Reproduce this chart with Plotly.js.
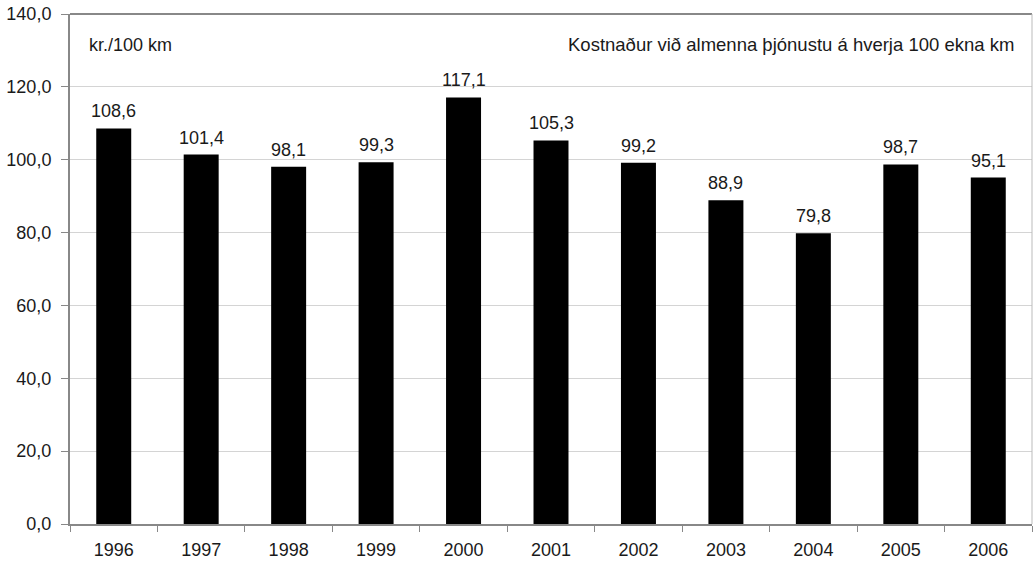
<!DOCTYPE html>
<html><head><meta charset="utf-8">
<script src="https://cdn.plot.ly/plotly-3.0.1.min.js"></script>
<style>body{margin:0;background:#fff}#c{width:1034px;height:562px}</style>
</head><body><div id="c"></div>
<script>
const years = ['1996','1997','1998','1999','2000','2001','2002','2003','2004','2005','2006'];
const values = [108.6,101.4,98.1,99.3,117.1,105.3,99.2,88.9,79.8,98.7,95.1];
const labels = values.map(v => v.toFixed(1).replace('.', ','));
const unitLabel = 'kr./100 km';
const chartNote = 'Kostnaður við almenna þjónustu á hverja 100 ekna km';

const font = {family:'Liberation Sans, Arial, sans-serif', size:18, color:'#1a1a1a'};
const valueAnnotations = years.map((y, i) => ({
  x:i, y:values[i], xref:'x', yref:'y', text:labels[i], showarrow:false,
  xanchor:'center', yanchor:'bottom', yshift:5, font:font
}));
Plotly.newPlot('c', [{
  type:'bar', x:years, y:values,
  marker:{color:'#000000', line:{color:'#000', width:0}},
  hoverinfo:'none'
}], {
  width:1034, height:562,
  margin:{l:70, r:2, t:14, b:38},
  paper_bgcolor:'#fff', plot_bgcolor:'#fff',
  font:font, separators:',.', bargap:0.6, showlegend:false,
  xaxis:{type:'category', range:[-0.5, 10.5], showgrid:false, showline:true, linecolor:'#888', linewidth:2,
    ticks:'outside', ticklen:6, tickcolor:'#888', tickson:'boundaries', tickfont:font, ticklabelstandoff:8},
  yaxis:{range:[0,140], dtick:20, tickformat:'.1f', showgrid:true, gridcolor:'#d4d4d4', gridwidth:1,
    showline:true, linecolor:'#888', linewidth:2, ticks:'outside', ticklen:7, tickcolor:'#888',
    tickfont:font, zeroline:false, ticklabelstandoff:6},
  shapes:[
    {type:'line', xref:'paper', yref:'paper', x0:0, x1:1, y0:1, y1:1, line:{color:'#888', width:2}},
    {type:'line', xref:'paper', yref:'paper', x0:1, x1:1, y0:0, y1:1, line:{color:'#bbb', width:1}}
  ],
  annotations:[
    {xref:'paper', yref:'paper', x:0.018, y:0.94, xanchor:'left', yanchor:'middle', text:unitLabel, showarrow:false, font:font},
    {xref:'paper', yref:'paper', x:0.983, y:0.94, xanchor:'right', yanchor:'middle', text:chartNote, showarrow:false,
     font:{family:font.family, size:18.5, color:font.color}}
  ].concat(valueAnnotations)
}, {staticPlot:true});
</script></body></html>
